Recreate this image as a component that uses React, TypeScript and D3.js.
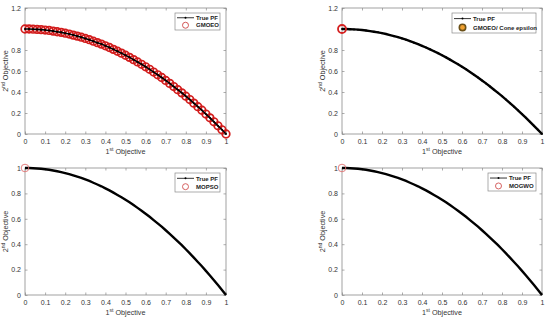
import { useEffect, useRef } from 'react';
import * as d3 from 'd3';

// true Pareto front
const pfX = [0, 0.02, 0.04, 0.06, 0.08, 0.1, 0.12, 0.14, 0.16, 0.18, 0.2, 0.22, 0.24, 0.26, 0.28, 0.3, 0.32, 0.34, 0.36, 0.38, 0.4, 0.42, 0.44, 0.46, 0.48, 0.5, 0.52, 0.54, 0.56, 0.58, 0.6, 0.62, 0.64, 0.66, 0.68, 0.7, 0.72, 0.74, 0.76, 0.78, 0.8, 0.82, 0.84, 0.86, 0.88, 0.9, 0.92, 0.94, 0.96, 0.98, 1];
const pfY = [1, 1, 0.998, 0.996, 0.994, 0.99, 0.986, 0.98, 0.974, 0.968, 0.96, 0.952, 0.942, 0.932, 0.922, 0.91, 0.898, 0.884, 0.87, 0.856, 0.84, 0.824, 0.806, 0.788, 0.77, 0.75, 0.73, 0.708, 0.686, 0.664, 0.64, 0.616, 0.59, 0.564, 0.538, 0.51, 0.482, 0.452, 0.422, 0.392, 0.36, 0.328, 0.294, 0.26, 0.226, 0.19, 0.154, 0.116, 0.078, 0.04, 0];

// algorithm results (GMOEO covers the whole front, the others only the corner)
const gmoeoX = pfX;
const gmoeoY = pfY;
const coneX = [0];
const coneY = [1];
const mopsoX = [0];
const mopsoY = [1];
const mogwoX = [0];
const mogwoY = [1];

const xTicks = [0, 0.1, 0.2, 0.3, 0.4, 0.5, 0.6, 0.7, 0.8, 0.9, 1];
const yTicksTop = [0, 0.2, 0.4, 0.6, 0.8, 1.2];
const yTicksBottom = [0, 0.2, 0.4, 0.6, 0.8, 1];

const panels = [
  { left: 25, right: 226, top: 8, bottom: 134, yMax: 1.2, yTicks: yTicksTop, name: 'GMOEO', xs: gmoeoX, ys: gmoeoY, lw: 45, lh: 17, dots: true, mk: 'big' },
  { left: 342, right: 542, top: 8, bottom: 134, yMax: 1.2, yTicks: yTicksTop, name: 'GMOEO/ Cone epsilon', xs: coneX, ys: coneY, lw: 84, lh: 20, dots: true, mk: 'cone' },
  { left: 25, right: 226, top: 168, bottom: 295, yMax: 1, yTicks: yTicksBottom, name: 'MOPSO', xs: mopsoX, ys: mopsoY, lw: 45, lh: 19, dots: false, mk: 'thin' },
  { left: 342, right: 542, top: 168, bottom: 295, yMax: 1, yTicks: yTicksBottom, name: 'MOGWO', xs: mogwoX, ys: mogwoY, lw: 48, lh: 18, dots: false, mk: 'thin' },
];

const FONT = '"Liberation Sans", Arial, sans-serif';
const AX = '#8a8a8a';
const TXT = '#333';

const App = () => {
  const svgRef = useRef<SVGSVGElement>(null);

  useEffect(() => {
    if (!svgRef.current) return;
    const svg = d3.select(svgRef.current);
    svg.selectAll('*').remove();

    panels.forEach(p => {
      const x = d3.scaleLinear().domain([0, 1]).range([p.left, p.right]);
      const y = d3.scaleLinear().domain([0, p.yMax]).range([p.bottom, p.top]);
      const g = svg.append('g');

      g.append('rect')
        .attr('x', p.left).attr('y', p.top)
        .attr('width', p.right - p.left).attr('height', p.bottom - p.top)
        .attr('fill', 'white').attr('stroke', AX).attr('stroke-width', 0.8);

      const fmt = (d: any) => d3.format('~g')(d);
      const styleAxis = (sel: any) => {
        sel.select('.domain').remove();
        sel.selectAll('line').attr('stroke', AX).attr('stroke-width', 0.7);
        sel.selectAll('text').attr('fill', TXT).attr('font-size', 7).attr('font-family', FONT);
      };

      // ticks point inwards on all four sides, labels only bottom / left
      g.append('g').attr('transform', `translate(0,${p.bottom})`)
        .call(d3.axisBottom(x).tickValues(xTicks).tickSize(-2.5).tickPadding(5).tickFormat(fmt))
        .call(styleAxis);
      g.append('g').attr('transform', `translate(0,${p.top})`)
        .call(d3.axisTop(x).tickValues(xTicks).tickSize(-2.5).tickFormat(() => ''))
        .call(styleAxis);
      g.append('g').attr('transform', `translate(${p.left},0)`)
        .call(d3.axisLeft(y).tickValues(p.yTicks).tickSize(-2.5).tickPadding(4).tickFormat(fmt))
        .call(styleAxis);
      g.append('g').attr('transform', `translate(${p.right},0)`)
        .call(d3.axisRight(y).tickValues(p.yTicks).tickSize(-2.5).tickFormat(() => ''))
        .call(styleAxis);

      // axis titles
      const cx = (p.left + p.right) / 2;
      const xt = g.append('text').attr('x', cx).attr('y', p.bottom + 19.5)
        .attr('text-anchor', 'middle').attr('font-size', 7.2).attr('font-family', FONT).attr('fill', TXT);
      xt.append('tspan').text('1');
      xt.append('tspan').attr('dy', -3).attr('font-size', 5).text('st');
      xt.append('tspan').attr('dy', 3).text(' Objective');

      const cy = (p.top + p.bottom) / 2;
      const yt = g.append('text')
        .attr('transform', `translate(${p.left - 17},${cy}) rotate(-90)`)
        .attr('text-anchor', 'middle').attr('font-size', 7.2).attr('font-family', FONT).attr('fill', TXT);
      yt.append('tspan').text('2');
      yt.append('tspan').attr('dy', -3).attr('font-size', 5).text('nd');
      yt.append('tspan').attr('dy', 3).text(' Objective');

      const pts = pfX.map((v, i) => [v, pfY[i]] as [number, number]);
      const res = p.xs.map((v, i) => [v, p.ys[i]] as [number, number]);

      if (p.mk === 'big') {
        g.selectAll('circle.res').data(res).enter().append('circle')
          .attr('class', 'res')
          .attr('cx', d => x(d[0])).attr('cy', d => y(d[1])).attr('r', 3.8)
          .attr('fill', 'none').attr('stroke', '#d21c1c').attr('stroke-width', 1.7);
      }

      const line = d3.line<[number, number]>().x(d => x(d[0])).y(d => y(d[1]));
      g.append('path').datum(pts).attr('d', line)
        .attr('fill', 'none').attr('stroke', '#000').attr('stroke-width', p.mk === 'big' ? 1.6 : 2.4);
      if (p.dots) {
        g.selectAll('circle.dot').data(pts).enter().append('circle')
          .attr('class', 'dot')
          .attr('cx', d => x(d[0])).attr('cy', d => y(d[1])).attr('r', 1)
          .attr('fill', '#000');
      }

      if (p.mk === 'cone') {
        g.selectAll('circle.res').data(res).enter().append('circle')
          .attr('class', 'res')
          .attr('cx', d => x(d[0])).attr('cy', d => y(d[1])).attr('r', 4)
          .attr('fill', 'none').attr('stroke', '#d42020').attr('stroke-width', 1.8);
      } else if (p.mk === 'thin') {
        g.selectAll('circle.res').data(res).enter().append('circle')
          .attr('class', 'res')
          .attr('cx', d => x(d[0])).attr('cy', d => y(d[1])).attr('r', 3.8)
          .attr('fill', 'none').attr('stroke', '#e07070').attr('stroke-width', 0.9);
      }

      // legend
      const lx = p.right - 6 - p.lw;
      const ly = p.top + 5;
      const lg = g.append('g').attr('transform', `translate(${lx},${ly})`);
      lg.append('rect').attr('width', p.lw).attr('height', p.lh)
        .attr('fill', 'white').attr('stroke', AX).attr('stroke-width', 0.7);
      const r1 = p.lh * 0.28;
      const r2 = p.lh * 0.72;
      lg.append('line').attr('x1', 2).attr('x2', 19).attr('y1', r1).attr('y2', r1)
        .attr('stroke', '#000').attr('stroke-width', 0.8);
      lg.append('circle').attr('cx', 10.5).attr('cy', r1).attr('r', 1).attr('fill', '#000');
      if (p.mk === 'cone') {
        lg.append('circle').attr('cx', 10.5).attr('cy', r2).attr('r', 3.2)
          .attr('fill', '#f0a030').attr('stroke', '#6b5018').attr('stroke-width', 1.6);
      } else {
        lg.append('circle').attr('cx', 10.5).attr('cy', r2).attr('r', 3)
          .attr('fill', 'none').attr('stroke', p.mk === 'big' ? '#c44' : '#d05050').attr('stroke-width', 0.9);
      }
      [['True PF', r1], [p.name, r2]].forEach(([t, ty]) => {
        lg.append('text').attr('x', 21).attr('y', (ty as number) + 2.2)
          .attr('font-size', 6).attr('font-weight', 'bold').attr('font-family', FONT)
          .attr('fill', '#222').text(t as string);
      });
    });
  }, []);

  return (
    <svg
      ref={svgRef}
      width={550}
      height={320}
      style={{ position: 'absolute', left: 0, top: 0, background: 'white' }}
    />
  );
};

export default App;
